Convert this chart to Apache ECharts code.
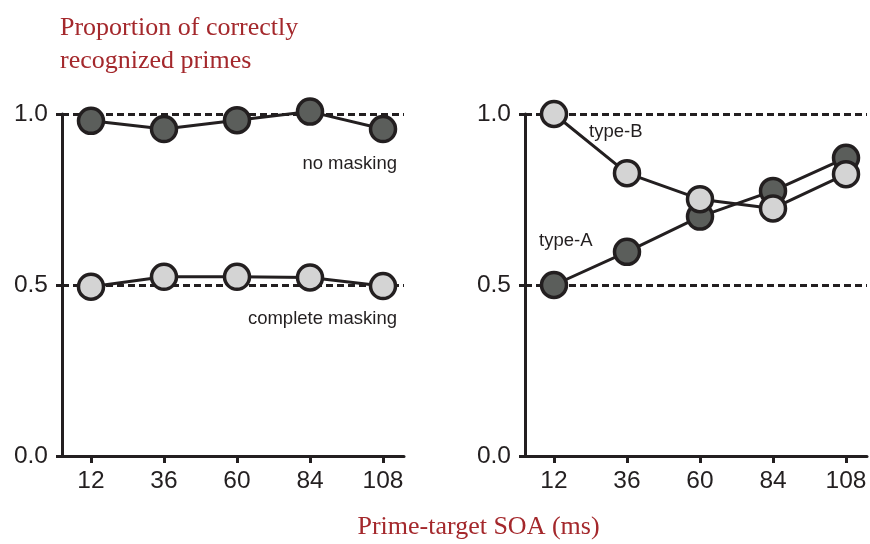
<!DOCTYPE html>
<html>
<head>
<meta charset="utf-8">
<script src="https://cdn.jsdelivr.net/npm/echarts@6/dist/echarts.min.js"></script>
<style>
html,body{margin:0;padding:0;background:#fff;}
#chart{width:870px;height:544px;}
</style>
</head>
<body>
<div id="chart"></div>
<script>
var soa = [12, 36, 60, 84, 108];
var noMasking = [0.980, 0.956, 0.982, 1.007, 0.956];
var completeMasking = [0.495, 0.524, 0.524, 0.522, 0.497];
var typeA = [0.500, 0.597, 0.700, 0.775, 0.872];
var typeB = [1.000, 0.827, 0.751, 0.724, 0.824];
var yTicks = [0, 0.5, 1.0];

var INK = '#231f20';
var RED = '#a4282c';
var DARK = '#5b5e5b';
var LIGHT = '#d4d4d4';

function pairs(vals) { return soa.map(function (s, i) { return [s, vals[i]]; }); }

function xAxis(idx) {
  return {
    type: 'value', gridIndex: idx, min: 2.47, max: 114.9,
    axisLine: { show: true, onZero: false, lineStyle: { color: INK, width: 3 } },
    axisTick: { show: true, length: 7, lineStyle: { color: INK, width: 3 }, customValues: soa },
    axisLabel: { customValues: soa, margin: 13, color: INK, fontSize: 24.5, fontFamily: 'Liberation Sans, Arial, sans-serif' },
    splitLine: { show: false }
  };
}
function yAxis(idx) {
  return {
    type: 'value', gridIndex: idx, min: 0, max: 1, interval: 0.5,
    axisLine: { show: true, lineStyle: { color: INK, width: 3 } },
    axisTick: { show: true, length: 6, lineStyle: { color: INK, width: 3 } },
    axisLabel: { margin: 14, color: INK, fontSize: 24.5, fontFamily: 'Liberation Sans, Arial, sans-serif',
      formatter: function (v) { return v.toFixed(1); } },
    splitLine: { show: true, showMinLine: false, lineStyle: { color: INK, width: 3, type: [7, 4] } }
  };
}
function series(name, idx, vals, fill) {
  return {
    name: name, type: 'line', xAxisIndex: idx, yAxisIndex: idx, data: pairs(vals),
    clip: false, symbol: 'circle', symbolSize: 25, showAllSymbol: true,
    lineStyle: { color: INK, width: 3 },
    itemStyle: { color: fill, borderColor: INK, borderWidth: 3.5 },
    emphasis: { disabled: true }, animation: false, z: 3
  };
}
function txt(x, y, s, align, size, color, family) {
  return { type: 'text', x: x, y: y, z: 10, style: { text: s, fill: color, font: size + 'px ' + family, textAlign: align, textVerticalAlign: 'middle' } };
}

var chart = echarts.init(document.getElementById('chart'), null, { renderer: 'canvas' });
chart.setOption({
  backgroundColor: '#ffffff',
  animation: false,
  grid: [
    { left: 62, top: 114, width: 342, height: 342 },
    { left: 525, top: 114, width: 342, height: 342 }
  ],
  xAxis: [xAxis(0), xAxis(1)],
  yAxis: [yAxis(0), yAxis(1)],
  series: [
    series('no masking', 0, noMasking, DARK),
    series('complete masking', 0, completeMasking, LIGHT),
    series('type-A', 1, typeA, DARK),
    series('type-B', 1, typeB, LIGHT)
  ],
  graphic: [
    txt(60, 28.5, 'Proportion of correctly', 'left', 26, RED, '"Liberation Serif", serif'),
    txt(60, 61.5, 'recognized primes', 'left', 26, RED, '"Liberation Serif", serif'),
    txt(478.5, 527, 'Prime-target SOA (ms)', 'center', 26, RED, '"Liberation Serif", serif'),
    txt(397, 164, 'no masking', 'right', 18.5, INK, '"Liberation Sans", Arial, sans-serif'),
    txt(397, 319, 'complete masking', 'right', 18.5, INK, '"Liberation Sans", Arial, sans-serif'),
    txt(589, 132, 'type-B', 'left', 18.5, INK, '"Liberation Sans", Arial, sans-serif'),
    txt(539, 240.5, 'type-A', 'left', 18.5, INK, '"Liberation Sans", Arial, sans-serif')
  ]
});
</script>
</body>
</html>
